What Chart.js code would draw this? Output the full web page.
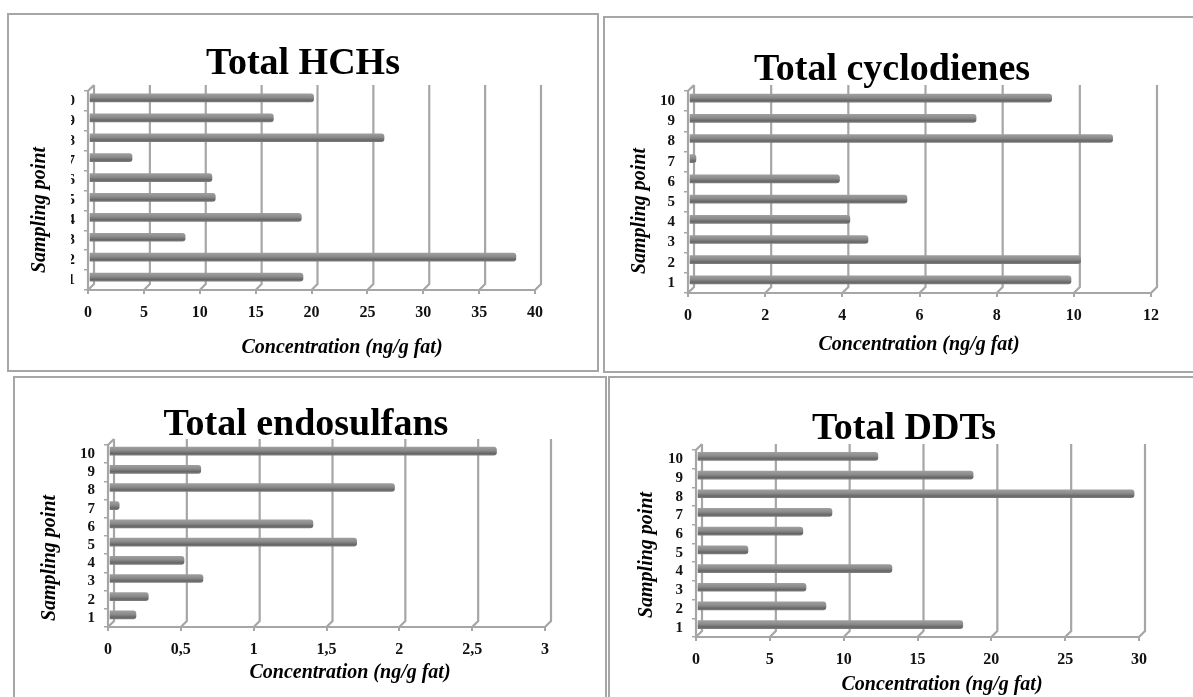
<!DOCTYPE html>
<html>
<head>
<meta charset="utf-8">
<style>
html, body { margin: 0; background: #fff; overflow: hidden; width: 1193px; height: 697px; }
.panel { position: absolute; border: 2px solid #a6a6a6; box-sizing: border-box; }
canvas { position: absolute; }
</style>
<script src="https://cdn.jsdelivr.net/npm/chart.js@4"></script>
</head>
<body>
<script>
const samplingPoints = ['1', '2', '3', '4', '5', '6', '7', '8', '9', '10'];
const hchValues = [19.15, 38.2, 8.6, 19, 11.3, 11, 3.85, 26.4, 16.5, 20.1];
const cyclodieneValues = [9.9, 10.15, 4.64, 4.17, 5.65, 3.9, 0.18, 10.98, 7.44, 9.4];
const endosulfanValues = [0.185, 0.27, 0.645, 0.515, 1.7, 1.4, 0.07, 1.96, 0.63, 2.66];
const ddtValues = [18, 8.73, 7.38, 13.2, 3.45, 7.17, 9.14, 29.6, 18.7, 12.25];

const xTitle = 'Concentration (ng/g fat)';
const yTitle = 'Sampling point';
const grey = '#a6a6a6';
const depth = [6, -6];

// titleX is where the chart title is centred; the title follows the layout padding
const charts = [
    { title: 'Total HCHs', data: hchValues, max: 40, step: 5, titleX: 303,
      box: [7, 13, 592, 359], canvas: [8, 14, 598, 371], plot: [88, 91, 535, 290],
      titlePad: [31, 8], xAt: [342, 348], yAt: [40, 210] },
    { title: 'Total cyclodienes', data: cyclodieneValues, max: 12, step: 2, titleX: 892,
      box: [603, 16, 600, 357], canvas: [604, 17, 1180, 372], plot: [688, 91, 1151, 293],
      titlePad: [34, 2], xAt: [919, 345], yAt: [640, 211] },
    { title: 'Total endosulfans', data: endosulfanValues, max: 3, step: 0.5, titleX: 306,
      box: [13, 376, 594, 340], canvas: [14, 377, 598, 697], plot: [108, 445, 545, 627],
      titlePad: [29, 1], xAt: [350, 673], yAt: [50, 558] },
    { title: 'Total DDTs', data: ddtValues, max: 30, step: 5, titleX: 904,
      box: [608, 376, 600, 340], canvas: [620, 377, 1188, 697], plot: [696, 450, 1139, 637],
      titlePad: [33, 2], xAt: [942, 685], yAt: [647, 555] },
];

// axis titles sit off-centre in the original, so let them take a shift
const baseDrawTitle = Chart.Scale.prototype.drawTitle;
Chart.Scale.prototype.drawTitle = function () {
    const shift = this.options.title.shift || [0, 0];
    this.ctx.save();
    this.ctx.translate(shift[0], shift[1]);
    baseDrawTitle.call(this);
    this.ctx.restore();
};

// fake 3D frame: back wall grid lines, floor and side wall
const frame3d = {
    id: 'frame3d',
    beforeDatasetsDraw(chart) {
        const { ctx, chartArea: a, scales } = chart;
        const dx = depth[0], dy = depth[1];
        ctx.save();
        ctx.strokeStyle = grey;
        ctx.lineWidth = 2.2;
        ctx.beginPath();
        scales.x.ticks.forEach(t => {
            const px = scales.x.getPixelForValue(t.value);
            ctx.moveTo(px + dx, a.top + dy);
            ctx.lineTo(px + dx, a.bottom + dy);
            ctx.lineTo(px, a.bottom);
        });
        ctx.moveTo(a.right, a.bottom);
        ctx.lineTo(a.left, a.bottom);
        ctx.lineTo(a.left, a.top);
        ctx.lineTo(a.left + dx, a.top + dy);
        ctx.stroke();
        ctx.restore();
        // the bars float a little above the floor
        ctx.save();
        ctx.translate(1, -3);
    },
    afterDatasetsDraw(chart) {
        chart.ctx.restore();
    },
};

function barFill(context) {
    const chart = context.chart;
    const y = chart.scales.y ? chart.scales.y.getPixelForValue(context.dataIndex) : NaN;
    if (!isFinite(y)) return '#8c8c8c';
    const g = chart.ctx.createLinearGradient(0, y - 4, 0, y + 4);
    g.addColorStop(0, '#9e9e9e');
    g.addColorStop(0.45, '#8a8a8a');
    g.addColorStop(0.8, '#666666');
    g.addColorStop(1, '#7c7c7c');
    return g;
}

charts.forEach(c => {
    const panel = document.createElement('div');
    panel.className = 'panel';
    panel.style.cssText = `left:${c.box[0]}px;top:${c.box[1]}px;width:${c.box[2]}px;height:${c.box[3]}px`;
    document.body.appendChild(panel);

    const [cl, ct, cr, cb] = c.canvas;
    const [pl, pt, pr, pb] = c.plot;
    // left edge of the layout box, picked so the title lands on titleX
    const boxLeft = 2 * c.titleX - pr;
    const canvas = document.createElement('canvas');
    canvas.width = cr - cl;
    canvas.height = cb - ct;
    canvas.style.cssText = `left:${cl}px;top:${ct}px;width:${cr - cl}px;height:${cb - ct}px`;
    document.body.appendChild(canvas);

    new Chart(canvas, {
        type: 'bar',
        data: {
            labels: samplingPoints,
            datasets: [{
                data: c.data,
                backgroundColor: barFill,
                barThickness: 8,
                borderRadius: { topLeft: 0, bottomLeft: 0, topRight: 3, bottomRight: 3 },
                borderSkipped: false,
                clip: false,
            }],
        },
        options: {
            indexAxis: 'y',
            responsive: false,
            animation: false,
            devicePixelRatio: 1,
            layout: { autoPadding: false, padding: { left: boxLeft - cl, top: 0, right: cr - pr, bottom: 0 } },
            plugins: {
                legend: { display: false },
                tooltip: { enabled: false },
                title: {
                    display: true,
                    text: c.title,
                    color: '#000',
                    font: { family: 'Liberation Serif', weight: 'bold', size: 38, lineHeight: 1 },
                    padding: { top: c.titlePad[0], bottom: c.titlePad[1] },
                },
            },
            scales: {
                x: {
                    type: 'linear',
                    min: 0,
                    max: c.max,
                    afterFit(s) { s.height = cb - pb; },
                    border: { display: false },
                    grid: { drawOnChartArea: false, tickLength: 4, color: grey, lineWidth: 2 },
                    ticks: {
                        stepSize: c.step,
                        padding: 9,
                        maxRotation: 0,
                        color: '#111',
                        font: { family: 'Liberation Serif', weight: 'bold', size: 16 },
                        callback: v => String(v).replace('.', ','),
                    },
                    title: {
                        display: true,
                        text: xTitle,
                        color: '#000',
                        padding: 0,
                        font: { family: 'Liberation Serif', weight: 'bold', style: 'italic', size: 20, lineHeight: 1 },
                        shift: [c.xAt[0] - (pl + pr) / 2, c.xAt[1] - (cb - 10)],
                    },
                },
                y: {
                    reverse: true,
                    afterFit(s) { s.width = pl - boxLeft; },
                    border: { display: false },
                    grid: { offset: true, drawOnChartArea: false, tickLength: 4, color: grey, lineWidth: 1.5 },
                    ticks: {
                        padding: 9,
                        autoSkip: false,
                        color: '#111',
                        font: { family: 'Liberation Serif', weight: 'bold', size: 15 },
                    },
                    title: {
                        display: true,
                        text: yTitle,
                        color: '#000',
                        padding: 0,
                        font: { family: 'Liberation Serif', weight: 'bold', style: 'italic', size: 20, lineHeight: 1 },
                        shift: [c.yAt[0] - (boxLeft + 10), c.yAt[1] - (pt + pb) / 2],
                    },
                },
            },
        },
        plugins: [frame3d],
    });
});
</script>
</body>
</html>
